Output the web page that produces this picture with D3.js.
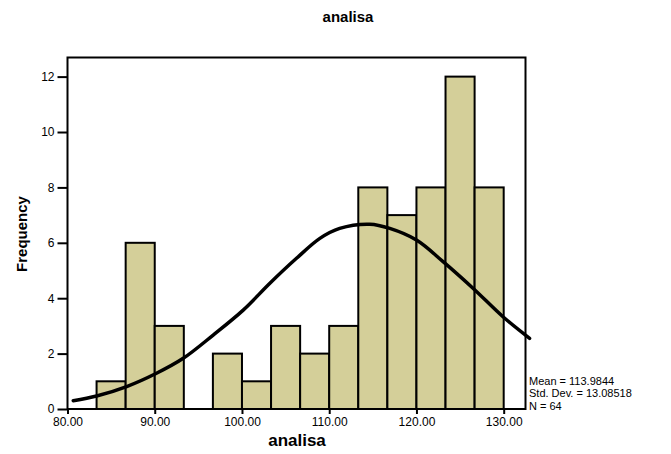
<!DOCTYPE html>
<html><head><meta charset="utf-8">
<script src="https://cdn.jsdelivr.net/npm/d3@7"></script>
<style>body{margin:0;background:#fff}svg{display:block;font-family:"Liberation Sans",Arial,sans-serif}</style>
</head><body><svg id="c" width="671" height="454"></svg>
<script>
// Histogram bins (lower edge) and counts
const binStarts = [83.333, 86.667, 90, 93.333, 96.667, 100, 103.333, 106.667, 110, 113.333, 116.667, 120, 123.333, 126.667];
const binWidth = 3.3333;
const counts = [1, 6, 3, 0, 2, 1, 3, 2, 3, 8, 7, 8, 12, 8];
// Normal curve points
const curveX = [80.66, 83.34, 86.78, 90.2, 93.27, 96.7, 100.14, 103.2, 106.25, 108.93, 111.2, 114.65, 116.94, 120.0, 123.05, 126.48, 129.92, 132.97];
const curveY = [0.30, 0.47, 0.81, 1.29, 1.83, 2.67, 3.57, 4.54, 5.44, 6.16, 6.52, 6.67, 6.52, 6.10, 5.32, 4.36, 3.33, 2.55];
const xTicks = [80, 90, 100, 110, 120, 130];
const yTicks = [0, 2, 4, 6, 8, 10, 12];
const stats = ["Mean = 113.9844", "Std. Dev. = 13.08518", "N = 64"];

const svg = d3.select("#c");
const L = 67.5, R = 525.5, T = 57.5, B = 409;
const x = d3.scaleLinear().domain([80, 132.5]).range([L, R]);
const y = d3.scaleLinear().domain([0, 12.69]).range([B, T]);

svg.append("text").attr("x", 348).attr("y", 22).attr("text-anchor", "middle")
  .attr("font-weight", "bold").attr("font-size", 15).text("analisa");

// bars
svg.append("g").selectAll("rect").data(binStarts.map((s, i) => ({s, c: counts[i]})).filter(d => d.c > 0))
  .join("rect")
  .attr("x", d => x(d.s)).attr("width", d => x(d.s + binWidth) - x(d.s))
  .attr("y", d => y(d.c)).attr("height", d => B - y(d.c))
  .attr("fill", "#d4cf99").attr("stroke", "#000").attr("stroke-width", 2);

// frame
svg.append("rect").attr("x", L).attr("y", T).attr("width", R - L).attr("height", B - T)
  .attr("fill", "none").attr("stroke", "#000").attr("stroke-width", 2);

// curve
const line = d3.line().x(d => x(d[0])).y(d => y(d[1])).curve(d3.curveCatmullRom);
svg.append("path").datum(curveX.map((v, i) => [v, curveY[i]]))
  .attr("d", line).attr("fill", "none").attr("stroke", "#000").attr("stroke-width", 3.5)
  .attr("stroke-linecap", "round");

// axes
const xa = svg.append("g").attr("transform", `translate(0,${B})`)
  .call(d3.axisBottom(x).tickValues(xTicks).tickFormat(d3.format(".2f")).tickSize(5).tickPadding(3));
const ya = svg.append("g").attr("transform", `translate(${L},0)`)
  .call(d3.axisLeft(y).tickValues(yTicks).tickSize(10).tickPadding(3));
[xa, ya].forEach(a => {
  a.select(".domain").remove();
  a.selectAll("line").attr("stroke", "#000").attr("stroke-width", 2);
  a.selectAll("text").attr("font-size", 12).attr("fill", "#000").attr("font-family", "Liberation Sans, Arial, sans-serif");
});

svg.append("text").attr("x", 297).attr("y", 446).attr("text-anchor", "middle")
  .attr("font-weight", "bold").attr("font-size", 17).text("analisa");
svg.append("text").attr("transform", "translate(27,234) rotate(-90)").attr("text-anchor", "middle")
  .attr("font-weight", "bold").attr("font-size", 15).text("Frequency");

svg.append("g").selectAll("text").data(stats).join("text")
  .attr("x", 529).attr("y", (d, i) => 384.5 + i * 12.5).attr("font-size", 11).text(d => d);
</script></body></html>
